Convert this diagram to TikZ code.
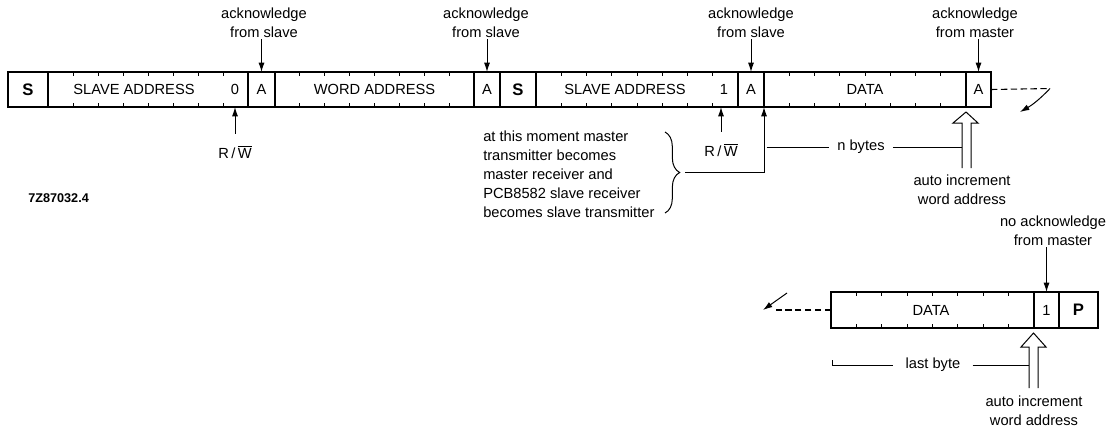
\documentclass[tikz,border=0pt]{standalone}
\usepackage{fontspec}
\setmainfont{Liberation Sans}
\usetikzlibrary{arrows.meta,decorations.pathreplacing,fit,calc}
\begin{document}
\begin{tikzpicture}[x=0.75pt,y=-0.75pt,
  fieldbox/.style={draw, line width=0.95pt, inner sep=0pt, outer sep=0pt},
  txt/.style={font=\fontsize{11}{14}\selectfont, inner sep=1.5pt, align=center},
  bigtxt/.style={font=\fontsize{12.5}{14}\selectfont\bfseries, inner sep=0pt},
  arr/.style={-{Latex[length=7pt,width=4.5pt]}, line width=0.75pt},
  thinline/.style={line width=0.75pt},
  dashline/.style={dash pattern=on 4.8pt off 2.6pt, line width=0.8pt},
  tickline/.style={line width=0.75pt}
]
\useasboundingbox (0,0) rectangle (1119,430);

% ---- top frame ----
\node[fieldbox, fit={(8,72) (48,107)}] (S1) {};
\node[fieldbox, fit={(48,72) (248,107)}] (SA1) {};
\node[fieldbox, fit={(248,72) (275,107)}] (A1) {};
\node[fieldbox, fit={(275,72) (474,107)}] (WA) {};
\node[fieldbox, fit={(474,72) (500,107)}] (A2) {};
\node[fieldbox, fit={(500,72) (536,107)}] (S2) {};
\node[fieldbox, fit={(536,72) (738,107)}] (SA2) {};
\node[fieldbox, fit={(738,72) (764,107)}] (A3) {};
\node[fieldbox, fit={(764,72) (966,107)}] (D1) {};
\node[fieldbox, fit={(966,72) (991,107)}] (A4) {};

\node[bigtxt] (tS1) at (S1.center) {S};
\node[txt] (tA1) at (A1.center) {A};
\node[txt] (tA2) at (A2.center) {A};
\node[bigtxt] (tS2) at (S2.center) {S};
\node[txt] (tA3) at (A3.center) {A};
\node[txt] (tA4) at (A4.center) {A};
\node[txt] (tSA1) at (134,89.5) {SLAVE ADDRESS};
\node[txt] (b0) at (235,89.5) {0};
\node[txt] (tWA) at (374.5,89.5) {WORD ADDRESS};
\node[txt] (tSA2) at (625,89.5) {SLAVE ADDRESS};
\node[txt] (b1) at (724,89.5) {1};
\node[txt] (tD1) at (865,89.5) {DATA};

% ---- bottom frame ----
\node[fieldbox, fit={(831,292) (1034,328)}] (D2) {};
\node[fieldbox, fit={(1034,292) (1059,328)}] (B1) {};
\node[fieldbox, fit={(1059,292) (1098,328)}] (P) {};
\node[txt] (tD2) at (931,310) {DATA};
\node[txt] (tB1) at (B1.center) {1};
\node[bigtxt] (tP) at (P.center) {P};

% ---- bit ticks ----
\foreach \f in {SA1,WA,SA2,D1,D2}{
  \foreach \k in {1,...,7}{
    \draw[tickline] ($(\f.north west)!\k/8!(\f.north east)$) -- ++(0,4);
    \draw[tickline] ($(\f.south west)!\k/8!(\f.south east)$) -- ++(0,-4);
  }
}

% ---- acknowledge labels ----
\node[txt] (ack1) at (264,22.5) {acknowledge\\from slave};
\node[txt] (ack2) at (486,22.5) {acknowledge\\from slave};
\node[txt] (ack3) at (751,22.5) {acknowledge\\from slave};
\node[txt] (ack4) at (975,22.5) {acknowledge\\from master};
\node[txt] (nack) at (1053,230.5) {no acknowledge\\from master};
\draw[arr] (A1.north |- ack1.south) -- (A1.north);
\draw[arr] (A2.north |- ack2.south) -- (A2.north);
\draw[arr] (A3.north |- ack3.south) -- (A3.north);
\draw[arr] (A4.north |- ack4.south) -- (A4.north);
\draw[arr] (B1.north |- nack.south) -- (B1.north);

% ---- R/W ----
\node[txt] (RW1) at (235,152) {R\,/\,$\overline{\mbox{W}}$};
\node[txt] (RW2) at (721,150) {R\,/\,$\overline{\mbox{W}}$};
\draw[arr, shorten <=7pt] (RW1.north) -- (RW1.north |- SA1.south);
\draw[arr, shorten <=7pt] (RW2.north) -- (RW2.north |- SA2.south);

% ---- side note with brace ----
\node[txt, align=left, anchor=west, font=\fontsize{11}{14.2}\selectfont] (note) at (481,174.5)
  {at this moment master\\transmitter becomes\\master receiver and\\PCB8582 slave receiver\\becomes slave transmitter};
\coordinate (bt) at (665,132);
\coordinate (bb) at (665,213);
\draw[thinline, decorate, decoration={brace, amplitude=11pt}] (bt) -- (bb);
\coordinate (btip) at (685,172.5);
\draw[arr] (btip) -- (btip -| D1.south west) -- (D1.south west);

% ---- 7Z label ----
\node[anchor=west, inner sep=0pt, font=\fontsize{9.5}{11}\selectfont\bfseries] (code) at (28,198) {7Z87032.4};

% ---- top hollow arrow and n bytes ----
\coordinate (hs1) at (962,147);
\draw[thinline, line join=miter] (962,168) -- (962,123) -- (953,123) -- (966,112) -- (978,123) -- (971,123) -- (971,168);
\node[txt, inner xsep=6pt] (nb) at (861,147) {n bytes};
\draw[thinline] ([xshift=2pt]nb.west -| D1.south west) -- (nb.west);
\draw[thinline] (nb.east) -- (nb.east -| hs1);
\node[txt] (auto1) at (962,189.5) {auto increment\\word address};

% ---- bottom hollow arrow and last byte ----
\coordinate (hs2) at (1029,365);
\draw[thinline, line join=miter] (1029,388) -- (1029,347) -- (1021,347) -- (1033.5,333) -- (1046,347) -- (1038,347) -- (1038,388);
\node[txt, inner xsep=9pt] (lb) at (933,365) {last byte};
\coordinate (lbstart) at (832,360);
\draw[thinline] (lbstart) -- (lbstart |- lb.west) -- (lb.west);
\draw[thinline] (lb.east) -- (lb.east -| hs2);
\node[txt] (auto2) at (1034,411) {auto increment\\word address};

% ---- continuation arrows ----
\coordinate (c1) at (1050,88.5);
\coordinate (c2) at (1020,112);
\draw[dashline] (A4.east) -- (c1);
\draw[arr] (c1) to[bend left=8] (c2);
\coordinate (c3) at (776,310);
\coordinate (c4) at (787,293);
\coordinate (c5) at (763,310);
\draw[dashline] (D2.west) -- (c3);
\draw[arr] (c4) -- (c5);
\end{tikzpicture}
\end{document}
